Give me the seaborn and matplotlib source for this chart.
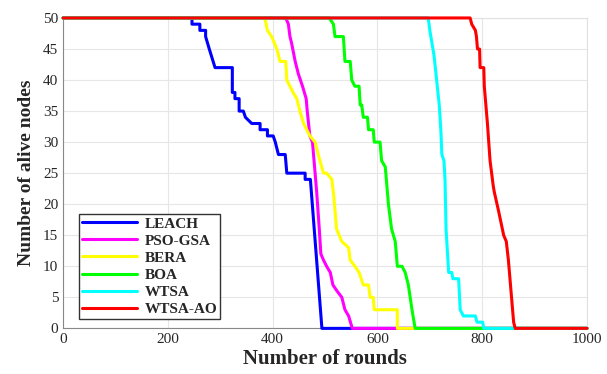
import matplotlib
matplotlib.use("Agg")
import matplotlib.pyplot as plt
import seaborn as sns

# vertices (round, alive nodes)
leach_x = [0, 246, 246, 261, 261, 272, 272, 279, 290, 323, 323, 328, 328, 336, 336, 344, 348, 360,
           376, 376, 390, 390, 401, 405, 411, 424, 427, 462, 462, 472, 494, 1000]
leach_y = [50, 50, 49, 49, 48, 48, 47, 45, 42, 42, 38, 38, 37, 37, 35, 35, 34, 33,
           33, 32, 32, 31, 31, 30, 28, 28, 25, 25, 24, 24, 0, 0]

pso_x = [0, 425, 430, 433, 436, 443, 449, 457, 464, 466, 471, 476, 480, 484, 489, 492, 497,
         503, 510, 515, 523, 532, 538, 545, 552, 1000]
pso_y = [50, 50, 49, 47, 46, 43, 41, 39, 37, 35, 31, 30, 26, 22, 16, 12, 11,
         10, 9, 7, 6, 5, 3, 2, 0, 0]

bera_x = [0, 385, 390, 398, 408, 414, 425, 427, 439, 446, 452, 459, 471, 481, 487, 497, 503, 513,
          517, 522, 532, 545, 548, 557, 565, 573, 583, 586, 592, 594, 638, 638, 1000]
bera_y = [50, 50, 48, 47, 45, 43, 43, 40, 38, 37, 35, 33, 31, 30, 28, 25, 25, 24,
          21, 16, 14, 13, 11, 10, 9, 7, 7, 5, 5, 3, 3, 0, 0]

boa_x = [0, 508, 516, 519, 535, 538, 548, 551, 557, 565, 567, 570, 573, 581, 583, 592, 594, 605,
         608, 615, 617, 621, 627, 634, 638, 647, 653, 659, 666, 672, 1000]
boa_y = [50, 50, 49, 47, 47, 43, 43, 40, 39, 39, 36, 36, 34, 34, 32, 32, 30, 30,
         27, 26, 24, 20, 16, 14, 10, 10, 9, 7, 3, 0, 0]

wtsa_x = [0, 697, 700, 704, 708, 713, 718, 721, 723, 727, 729, 731, 736, 742, 744, 755, 758, 764,
          787, 790, 801, 803, 1000]
wtsa_y = [50, 50, 48, 46, 44, 40, 36, 32, 28, 27, 24, 16, 9, 9, 8, 8, 3, 2,
          2, 1, 1, 0, 0]

ao_x = [0, 777, 780, 787, 789, 791, 795, 796, 803, 804, 810, 815, 821, 823, 831, 836, 841, 846,
        850, 860, 863, 1000]
ao_y = [50, 50, 49, 48, 47, 45, 45, 42, 42, 39, 33, 27, 23, 22, 19, 17, 15, 14,
        11, 1, 0, 0]

series = [
    ("LEACH", leach_x, leach_y, "#0000ff"),
    ("PSO-GSA", pso_x, pso_y, "#ff00ff"),
    ("BERA", bera_x, bera_y, "#ffff00"),
    ("BOA", boa_x, boa_y, "#00ff00"),
    ("WTSA", wtsa_x, wtsa_y, "#00ffff"),
    ("WTSA-AO", ao_x, ao_y, "#ff0000"),
]

sns.set_style("whitegrid", {"grid.color": "#e6e6e6", "axes.edgecolor": "#888888"})
plt.rcParams["font.family"] = ["Liberation Serif", "DejaVu Serif"]

fig = plt.figure(figsize=(6.07, 3.74), dpi=100)
ax = fig.add_axes([0.104, 0.122, 0.863, 0.830])

for name, xs, ys, col in series:
    sns.lineplot(x=xs, y=ys, ax=ax, sort=False, estimator=None, color=col,
                 linewidth=2.2, label=name, clip_on=False, zorder=3)

ax.set_xlim(0, 1000)
ax.set_ylim(0, 50)
ax.set_xticks(range(0, 1001, 200))
ax.set_yticks(range(0, 51, 5))
ax.tick_params(labelsize=11, length=3, direction="in", color="#666666")
ax.set_xlabel("Number of rounds", fontsize=15, fontweight="bold", labelpad=2)
ax.set_ylabel("Number of alive nodes", fontsize=14, fontweight="bold", labelpad=6)
for s in ["top", "right"]:
    ax.spines[s].set_color("#e0e0e0")

leg = ax.legend(loc="lower left", bbox_to_anchor=(0.03, 0.03), borderaxespad=0,
                fancybox=False, framealpha=1, edgecolor="#333333",
                prop={"weight": "bold", "size": 11}, handlelength=3.6,
                labelspacing=0.22, borderpad=0.2, handletextpad=0.5)
leg.get_frame().set_linewidth(1.0)
leg.set_zorder(5)

fig.savefig("out.png", dpi=100)
